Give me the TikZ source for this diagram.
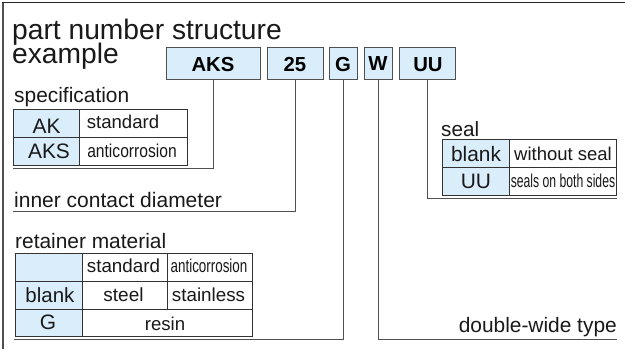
\documentclass[tikz,border=0pt]{standalone}
\usepackage{fontspec}
\setmainfont{Liberation Sans}
\definecolor{cellblue}{HTML}{DAEDFB}
\definecolor{rulegray}{HTML}{505050}
\tikzset{
  x=1pt,y=-1pt,
  codebox/.style={draw=rulegray,line width=0.9pt,fill=cellblue,inner sep=0pt,minimum height=31.5pt,text=black},
  cell/.style={draw=black!80,line width=0.9pt,inner sep=0pt},
  hcell/.style={cell,fill=cellblue},
  leader/.style={draw=rulegray,line width=0.95pt},
  lbl/.style={inner sep=0pt,anchor=base west,text=black!90},
  celltext/.style={inner sep=0pt,anchor=base,text=black!90},
  boxtext/.style={inner sep=0pt,anchor=base,text=black,font=\fs{20.3}\bfseries},
}
\newcommand{\fs}[1]{\fontsize{#1}{#1}\selectfont}
\begin{document}
\begin{tikzpicture}
\useasboundingbox (0,0) rectangle (625,349);
\fill[white] (0,0) rectangle (625,349);
\draw[draw=rulegray,line width=1.3pt] (3,349) -- (3,2.5);
\draw[draw=black!85,line width=1pt] (2.4,2.5) -- (625,2.5);
% free ends
\coordinate (aksend) at (13,168.5);
\coordinate (n25end) at (13,211);
\coordinate (gend) at (14,339.5);
\coordinate (wend) at (617,339.5);
\coordinate (uuend) at (617,198);
% code boxes
\node[codebox,minimum width=94pt] (aks) at (213,63.2) {};
\node[codebox,minimum width=56pt] (n25) at (295,63.2) {};
\node[codebox,minimum width=28pt] (g) at (343,63.2) {};
\node[codebox,minimum width=28pt] (w) at (378,63.2) {};
\node[codebox,minimum width=56pt] (uu) at (427,63.2) {};
\node[boxtext] at (213,71.5) {AKS};
\node[boxtext] at (295,71.5) {25};
\node[boxtext] at (343,71) {G};
\node[boxtext] at (378,70) {W};
\node[boxtext] at (428,71.5) {UU};
\draw[leader] (aks.south) |- (aksend);
\draw[leader] (n25.south) |- (n25end);
\draw[leader] (g.south) |- (gend);
\draw[leader] (w.south) |- (wend);
\draw[leader] (uu.south) |- (uuend);
% title
\node[lbl,font=\fs{28.2}] (t1) at (12,39) {part number structure};
\node[lbl,font=\fs{28.2}] (t2) at (12,63) {example};
% spec
\node[lbl,font=\fs{20.9}] (speclbl) at (14,102) {specification};
\node[hcell,minimum width=66pt,minimum height=28pt] (ak) at (46.5,123) {};
\node[hcell,minimum width=66pt,minimum height=28pt] (aksr) at (46.5,151) {};
\node[cell,minimum width=108pt,minimum height=28pt] (std) at (133,123) {};
\node[cell,minimum width=108pt,minimum height=28pt] (anti) at (133,151) {};
\node[celltext,font=\fs{20.9}] at (46.5,133) {AK};
\node[celltext,font=\fs{20.9}] at (49,158.5) {AKS};
\node[celltext,font=\fs{18.6}] at (123,128.5) {standard};
\node[celltext,font=\fs{18.6}] at (132,157) {\scalebox{0.84}[1]{anticorrosion}};
% inner contact
\node[lbl,font=\fs{21}] (icd) at (14,207) {inner contact diameter};
% retainer
\node[lbl,font=\fs{20.9}] (retlbl) at (15,248) {retainer material};
\node[hcell,minimum width=66.5pt,minimum height=28pt] (r00) at (49,267) {};
\node[hcell,minimum width=66.5pt,minimum height=28pt] (r10) at (49,295) {};
\node[hcell,minimum width=66.5pt,minimum height=27pt] (r20) at (49,322.5) {};
\node[cell,minimum width=85.5pt,minimum height=28pt] (r01) at (125,267) {};
\node[cell,minimum width=85.5pt,minimum height=28pt] (r11) at (125,295) {};
\node[cell,minimum width=84.5pt,minimum height=28pt] (r02) at (210,267) {};
\node[cell,minimum width=84.5pt,minimum height=28pt] (r12) at (210,295) {};
\node[cell,minimum width=170pt,minimum height=27pt] (r21) at (167.5,322.5) {};
\node[celltext,font=\fs{18.8}] at (123.5,272) {standard};
\node[celltext,font=\fs{18.6}] at (209,272) {\scalebox{0.72}[1]{anticorrosion}};
\node[celltext,font=\fs{20.5}] at (50,302) {blank};
\node[celltext,font=\fs{19}] at (123.5,301) {steel};
\node[celltext,font=\fs{18.8}] at (208.5,301) {stainless};
\node[celltext,font=\fs{20.9}] at (48,329) {G};
\node[celltext,font=\fs{18.6}] at (165,330) {resin};
% seal
\node[lbl,font=\fs{20.7}] (seallbl) at (441,136) {seal};
\node[hcell,minimum width=66.5pt,minimum height=28pt] (s00) at (476,153) {};
\node[hcell,minimum width=66.5pt,minimum height=28pt] (s10) at (476,181) {};
\node[cell,minimum width=107.5pt,minimum height=28pt] (s01) at (563,153) {};
\node[cell,minimum width=107.5pt,minimum height=28pt] (s11) at (563,181) {};
\node[celltext,font=\fs{20.9}] at (476,161) {blank};
\node[celltext,font=\fs{20.9}] at (476,188) {UU};
\node[celltext,font=\fs{18.5}] at (563,160) {without seal};
\node[celltext,font=\fs{18.6}] at (563,187) {\scalebox{0.655}[1]{seals on both sides}};
% double-wide
\node[inner sep=0pt,anchor=base east,font=\fs{20.9},text=black!90] (dw) at (617,332) {double-wide type};
\end{tikzpicture}
\end{document}
